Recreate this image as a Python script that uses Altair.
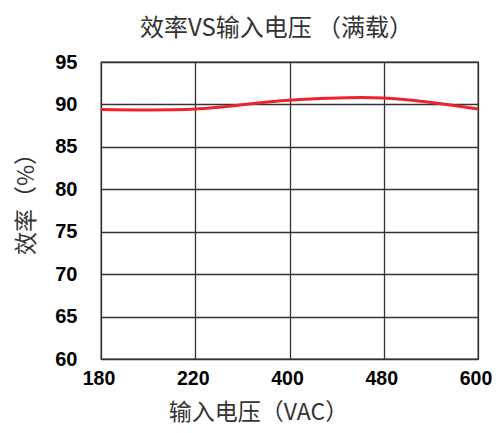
import altair as alt
import pandas as pd

voltages = ["180", "220", "400", "480", "600"]
efficiency = [89.4, 89.45, 90.5, 90.75, 89.45]
y_ticks = [60, 65, 70, 75, 80, 85, 90, 95]

df = pd.DataFrame({"v": voltages, "eff": efficiency})

cjk = "Noto Sans CJK SC"
num = "Liberation Sans"

chart = alt.Chart(df).mark_line(
    color="#ee2229", strokeWidth=3, interpolate="cardinal"
).encode(
    x=alt.X(
        "v:O",
        sort=voltages,
        scale=alt.Scale(type="point", padding=0),
        axis=alt.Axis(
            title="输入电压（VAC）",
            labelAngle=0,
            labelFont=num,
            labelFontWeight="bold",
            labelFontSize=19.5,
            labelColor="#000000",
            labelPadding=10,
            labelOffset=-2.5,
            ticks=False,
            tickSize=0,
            domain=False,
            grid=True,
            gridColor="#333333",
            gridWidth=1.3,
            gridOpacity=1,
            titleFont=cjk,
            titleFontSize=23,
            titleFontWeight="normal",
            titleColor="#333333",
            titleX=157,
            titleY=53,
            titleAlign="center",
            titleBaseline="middle",
        ),
    ),
    y=alt.Y(
        "eff:Q",
        scale=alt.Scale(domain=[60, 95], nice=False, zero=False),
        axis=alt.Axis(
            title="效率（%）",
            values=y_ticks,
            labelFont=num,
            labelFontWeight="bold",
            labelFontSize=20,
            labelColor="#000000",
            labelPadding=24,
            ticks=False,
            tickSize=0,
            domain=False,
            grid=True,
            gridColor="#333333",
            gridWidth=1.3,
            gridOpacity=1,
            titleFont=cjk,
            titleFontSize=23,
            titleFontWeight="normal",
            titleColor="#333333",
            titleX=-75,
            titleY=136,
            titleAlign="center",
            titleBaseline="middle",
        ),
    ),
).properties(
    width=377,
    height=297,
    title=alt.TitleParams(
        text="效率VS输入电压 （满载）",
        font=cjk,
        fontSize=24,
        fontWeight="normal",
        color="#333333",
        anchor="middle",
        dx=-13,
        offset=11,
    ),
    autosize=alt.AutoSizeParams(type="none"),
    padding={"left": 93, "top": 54, "right": 14, "bottom": 66},
).configure_view(
    stroke="#333333", strokeWidth=1.3
)

chart.save("out.html", embed_options={"renderer": "svg", "actions": False})
